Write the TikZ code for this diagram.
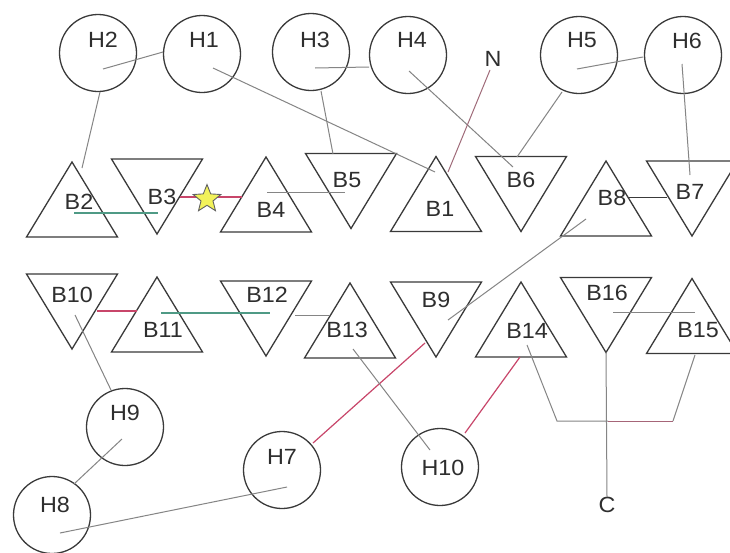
\documentclass[tikz,border=0pt]{standalone}
\usepackage{fontspec}
\setmainfont{Liberation Sans}[FakeStretch=1.06]
\usetikzlibrary{calc,shapes.geometric}
\definecolor{shpc}{HTML}{3A3A3A}
\definecolor{txtc}{HTML}{2E2E2E}
\definecolor{conc}{HTML}{858585}
\definecolor{tealc}{HTML}{4F9A85}
\definecolor{redc}{HTML}{C8466A}
\definecolor{stary}{HTML}{F2F25A}
\tikzset{
  shp/.style={draw=shpc, line width=1.3pt, line join=miter},
  hcirc/.style={circle, draw=shpc, line width=1.3pt, minimum size=77pt, inner sep=0pt},
  lbl/.style={text=txtc, font=\fontsize{22}{24}\selectfont, inner sep=0pt},
  conn/.style={draw=conc, line width=1pt},
  tconn/.style={draw=tealc, line width=1.2pt},
  rconn/.style={draw=redc, line width=1.2pt},
  starnode/.style={star, star points=5, star point ratio=2.3, minimum size=29pt, inner sep=0pt, draw=shpc!80, fill=stary, line width=0.9pt}
}
\newcommand\TriUp[3]{\coordinate (#1) at (#2,#3);
  \draw[shp] ($(#1)+(0,-37.5)$) -- ($(#1)+(45.5,37.5)$) -- ($(#1)+(-45.5,37.5)$) -- cycle;}
\newcommand\TriDn[3]{\coordinate (#1) at (#2,#3);
  \draw[shp] ($(#1)+(0,37.5)$) -- ($(#1)+(45.5,-37.5)$) -- ($(#1)+(-45.5,-37.5)$) -- cycle;}
\begin{document}
\begin{tikzpicture}[x=1pt,y=-1pt]
\useasboundingbox (0,0) rectangle (730,552);
\clip (0,0) rectangle (730,552);
\fill[white] (0,0) rectangle (730,552);
% circles
\node[hcirc] (H2) at (98,53) {};
\node[hcirc] (H1) at (202,54) {};
\node[hcirc] (H3) at (311,52) {};
\node[hcirc] (H4) at (408,55) {};
\node[hcirc] (H5) at (579,55) {};
\node[hcirc] (H6) at (683,55) {};
\node[hcirc] (H9) at (125,427) {};
\node[hcirc] (H8) at (52,515) {};
\node[hcirc] (H7) at (282,470) {};
\node[hcirc] (H10) at (440,467) {};
\node[lbl] (H2t) at ($(H2)+(5,-13)$) {H2};
\node[lbl] (H1t) at ($(H1)+(2,-14)$) {H1};
\node[lbl] (H3t) at ($(H3)+(4,-12)$) {H3};
\node[lbl] (H4t) at ($(H4)+(4,-15)$) {H4};
\node[lbl] (H5t) at ($(H5)+(3,-15)$) {H5};
\node[lbl] (H6t) at ($(H6)+(4,-14)$) {H6};
\node[lbl] (H9t) at ($(H9)+(0,-14)$) {H9};
\node[lbl] (H8t) at ($(H8)+(3,-10)$) {H8};
\node[lbl] (H7t) at ($(H7)+(0,-13)$) {H7};
\node[lbl] (H10t) at ($(H10)+(3,1)$) {H10};
\node[lbl] (N) at (493,59) {N};
\node[lbl] (C) at (607,505) {C};
% triangles
\TriUp{B2}{72}{199.5}
\TriDn{B3}{157}{196.5}
\TriUp{B4}{266}{194.5}
\TriDn{B5}{351}{191}
\TriUp{B1}{436}{194}
\TriDn{B6}{521}{194}
\TriUp{B8}{606}{198.5}
\TriDn{B7}{692}{198.5}
\TriDn{B10}{72}{311.5}
\TriUp{B11}{157}{314.5}
\TriDn{B12}{266}{318.5}
\TriUp{B13}{350}{320.5}
\TriDn{B9}{436}{319.5}
\TriUp{B14}{521}{319.5}
\TriDn{B16}{606}{315}
\TriUp{B15}{692}{316}
\node[lbl] (B2t) at (79,202) {B2};
\node[lbl] (B3t) at (162,197) {B3};
\node[lbl] (B4t) at (271,210) {B4};
\node[lbl] (B5t) at (347,180) {B5};
\node[lbl] (B1t) at (440,209) {B1};
\node[lbl] (B6t) at (521,180) {B6};
\node[lbl] (B8t) at (612,198) {B8};
\node[lbl] (B7t) at (690,192) {B7};
\node[lbl] (B10t) at (72,295) {B10};
\node[lbl] (B11t) at (163,330) {B11};
\node[lbl] (B12t) at (267,295) {B12};
\node[lbl] (B13t) at (347,330) {B13};
\node[lbl] (B9t) at (436,300) {B9};
\node[lbl] (B14t) at (527,331) {B14};
\node[lbl] (B16t) at (607,293) {B16};
\node[lbl] (B15t) at (698,330) {B15};
% connectors
\draw[conn] ($(H2)+(5,16)$) -- ($(H1)+(-39,-2)$);
\draw[conn] ($(H2)+(2,39)$) -- ($(B2)+(10,-31.5)$);
\draw[conn] ($(H1)+(11,14)$) -- ($(B1)+(-1,-22)$);
\draw[conn] ($(H3)+(4,16)$) -- ($(H4)+(-39,12)$);
\draw[conn] ($(H3)+(10,39)$) -- ($(B5)+(-18,-37)$);
\draw[conn] ($(H4)+(1,16)$) -- ($(B6)+(-8,-27)$);
\draw[conn, draw=conc!60!redc] ($(N)+(-3,11)$) -- ($(B1)+(12,-22)$);
\draw[conn] ($(H5)+(-17,37)$) -- ($(B6)+(-4,-37)$);
\draw[conn] ($(H5)+(-2,14)$) -- ($(H6)+(-40,2)$);
\draw[conn] ($(H6)+(-1,9)$) -- ($(B7)+(-2,-23.5)$);
\draw[conn, draw=shpc] ($(B8)+(23,-1.5)$) -- ($(B7)+(-25,-1.5)$);
\draw[conn] ($(B8)+(-20,20.5)$) -- ($(B9)+(12,0.5)$);
\draw[tconn] ($(B2)+(2,13.5)$) -- ($(B3)+(1,16.5)$);
\draw[rconn] ($(B3)+(23,0.5)$) -- ($(B4)+(-24,2.5)$);
\node[starnode] (S) at (207,199) {};
\draw[conn] ($(B4)+(1,-2.5)$) -- ($(B5)+(-6,1)$);
\draw[rconn] ($(B10)+(25,-0.5)$) -- ($(B11)+(-20,-3.5)$);
\draw[tconn] ($(B11)+(4,-1.5)$) -- ($(B12)+(4,-5.5)$);
\draw[conn] ($(B12)+(29,-3.5)$) -- ($(B13)+(-20,-5.5)$);
\draw[conn] ($(B10)+(3,3.5)$) -- ($(H9)+(-14,-37)$);
\draw[conn] ($(H9)+(-3,12)$) -- ($(H8)+(22,-31)$);
\draw[conn] ($(H8)+(8,18)$) -- ($(H7)+(5,17)$);
\draw[rconn] ($(H7)+(31,-27)$) -- ($(B9)+(-11,23.5)$);
\draw[conn] ($(B13)+(3,28.5)$) -- ($(H10)+(-10,-17)$);
\draw[rconn] ($(H10)+(25,-34)$) -- ($(B14)+(-1,37.5)$);
\coordinate (k1) at (557,421);
\coordinate (k2) at (673,421);
\coordinate (kc) at (608,421);
\draw[conn] ($(B14)+(6,25.5)$) -- (k1) -- (kc);
\draw[conn, draw=conc!50!redc] (kc) -- (k2);
\draw[conn] (k2) -- ($(B15)+(3,39)$);
\draw[conn] ($(B16)+(0,37)$) -- (C.north);
\draw[conn] ($(B16)+(7,-3)$) -- ($(B15)+(3,-4)$);
\end{tikzpicture}
\end{document}
